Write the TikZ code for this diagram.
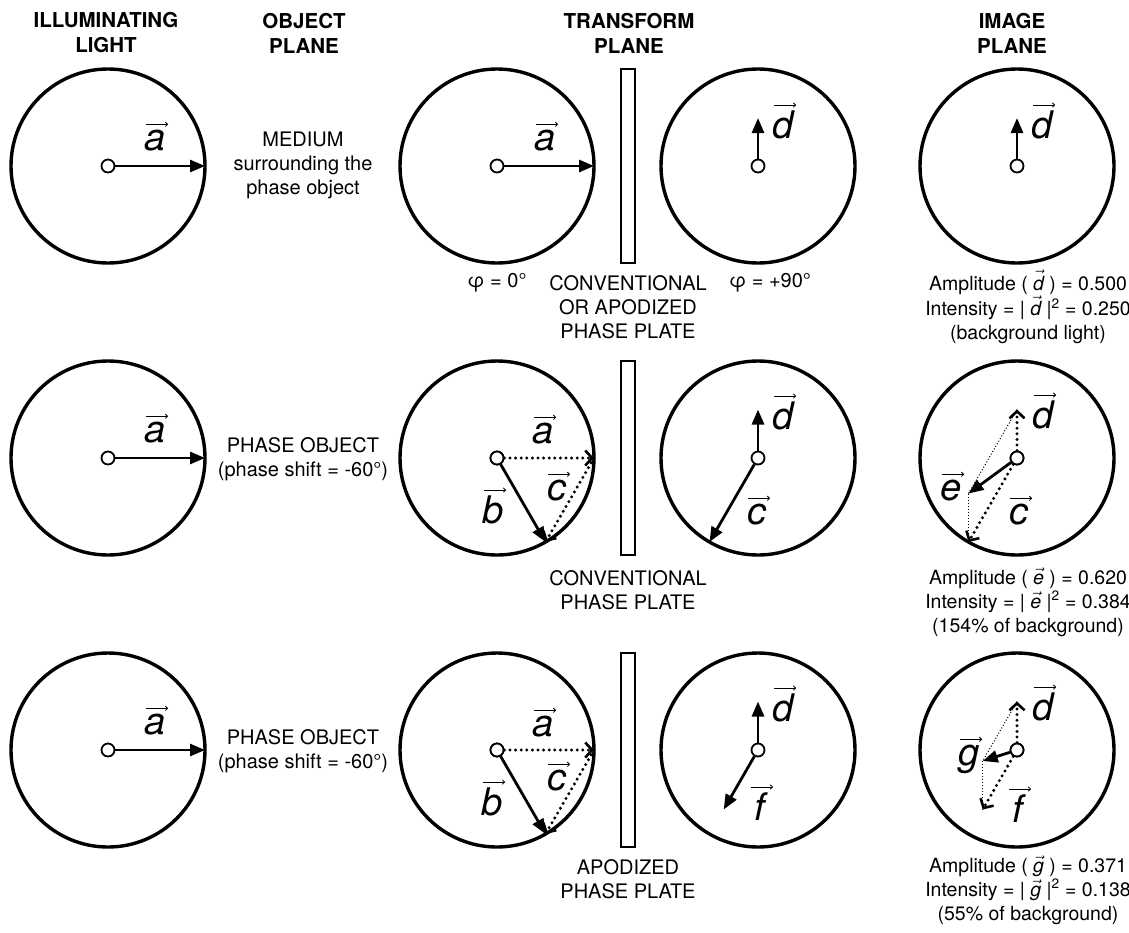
\documentclass[tikz,border=0pt]{standalone}
\usepackage{fontspec}
\setmainfont{TeX Gyre Heros}
\usetikzlibrary{arrows.meta}

\tikzset{
  ring/.style={circle, draw, line width=3.4pt, minimum size=194pt, inner sep=0pt},
  orig/.style={circle, draw, line width=1.8pt, fill=white, minimum size=13pt, inner sep=0pt},
  plate/.style={rectangle, draw, line width=1.6pt, minimum width=14pt, minimum height=194pt, inner sep=0pt},
  vecline/.style={line width=2.8pt, -{Triangle[length=15pt,width=12pt]}},
  dotvec/.style={line width=3.3pt, line cap=round, dash pattern=on 0pt off 5.6pt,
                 -{Straight Barb[length=7pt,width=15pt,line width=2.6pt]}},
  guide/.style={line width=1pt, dash pattern=on 1pt off 2pt},
  vlab/.style={font=\fontsize{38}{38}\selectfont\itshape, inner sep=0pt, anchor=base},
  overarrow/.style={line width=0.8pt, -{To[length=3pt,width=5pt]}},
  hdr/.style={font=\fontsize{20.5}{25}\selectfont\bfseries, align=center},
  txt/.style={font=\fontsize{20}{24}\selectfont, align=center},
  restxt/.style={font=\fontsize{19.5}{24}\selectfont, align=center},
}

% vector label: node name, base point, letter
\newcommand\vlabel[3]{%
  \node[vlab] (#1) at (#2) {#3};
  \draw[overarrow] ([xshift=-9pt,yshift=5pt]#1.north) -- ([xshift=13pt,yshift=5pt]#1.north);
}
\newcommand\vsym[1]{$\vec{\mbox{\itshape #1}}$}

\begin{document}
\begin{tikzpicture}[x=1pt,y=-1pt]
\useasboundingbox (0,0) rectangle (1129,932);

% column headers
\node[hdr] (h1) at (106,33) {ILLUMINATING\\LIGHT};
\node[hdr] (h2) at (304,33) {OBJECT\\PLANE};
\node[hdr] (h3) at (629,33) {TRANSFORM\\PLANE};
\node[hdr] (h4) at (1012,33) {IMAGE\\PLANE};

% ---------------- row 1: background medium ----------------
\node[ring] (r11) at (108,166) {};
\node[ring] (r12) at (497,166) {};
\node[plate] (p1) at (628,166) {};
\node[ring] (r13) at (758,166) {};
\node[ring] (r14) at (1017,166) {};

\node[orig] (o11) at (108,166) {};
\node[orig] (o12) at (497,166) {};
\node[orig] (o13) at (758,166) {};
\node[orig] (o14) at (1017,166) {};

\coordinate (a11) at (205,166);
\coordinate (a12) at (594,166);
\coordinate (d13) at (758,118);
\coordinate (d14) at (1017,118);

\draw[vecline] (o11) -- (a11);
\draw[vecline] (o12) -- (a12);
\draw[vecline] (o13) -- (d13);
\draw[vecline] (o14) -- (d14);

\vlabel{la11}{155,150}{a}
\vlabel{la12}{545,150}{a}
\vlabel{ld13}{783,138}{d}
\vlabel{ld14}{1042,138}{d}

\node[txt] (t1) at (303,165) {MEDIUM\\surrounding the\\phase object};
\node[txt] (phi0) at (497,283) {φ = 0°};
\node[txt] (phi90) at (770,283) {φ = +90°};
\node[txt] (pp1) at (628,307) {CONVENTIONAL\\OR APODIZED\\PHASE PLATE};
\node[restxt] (res1) at (1028,307) {Amplitude ( \vsym{d} ) = 0.500\\
  Intensity = | \vsym{d} |\textsuperscript{2} = 0.250\\(background light)};

% ---------------- row 2: phase object, conventional plate ----------------
\node[ring] (r21) at (108,458) {};
\node[ring] (r22) at (497,458) {};
\node[plate] (p2) at (628,458) {};
\node[ring] (r23) at (758,458) {};
\node[ring] (r24) at (1017,458) {};

\coordinate (a21) at (205,458);
\coordinate (a22) at (594,458);
\coordinate (b22) at (545.5,542);
\coordinate (d23) at (758,409.5);
\coordinate (c23) at (709.5,542);
\coordinate (d24) at (1017,409.5);
\coordinate (c24) at (968.5,542);
\coordinate (e24) at (968.5,493.5);

\node[orig] (o21) at (108,458) {};
\node[orig] (o22) at (497,458) {};
\node[orig] (o23) at (758,458) {};
\node[orig] (o24) at (1017,458) {};

\draw[vecline] (o21) -- (a21);
\draw[dotvec] (o22) -- (a22);
\draw[vecline] (o22) -- (b22);
\draw[dotvec] (a22) -- (b22);
\draw[vecline] (o23) -- (d23);
\draw[vecline] (o23) -- (c23);
\draw[guide] (d24) -- (e24);
\draw[guide] (e24) -- (c24);
\draw[dotvec] (o24) -- (d24);
\draw[dotvec] (o24) -- (c24);
\draw[vecline] (o24) -- (e24);
\node[orig] at (o22) {};
\node[orig] at (o24) {};

\vlabel{la21}{155,442}{a}
\vlabel{la22}{543,443}{a}
\vlabel{lc22}{557,500}{c}
\vlabel{lb22}{493,523}{b}
\vlabel{ld23}{783,429}{d}
\vlabel{lc23}{757,524}{c}
\vlabel{ld24}{1043,428}{d}
\vlabel{lc24}{1019,524}{c}
\vlabel{le24}{951,500}{e}

\node[txt] (t2) at (303,459) {PHASE OBJECT\\(phase shift = -60°)};
\node[txt] (pp2) at (628,590) {CONVENTIONAL\\PHASE PLATE};
\node[restxt] (res2) at (1028,602) {Amplitude ( \vsym{e} ) = 0.620\\
  Intensity = | \vsym{e} |\textsuperscript{2} = 0.384\\(154\% of background)};

% ---------------- row 3: phase object, apodized plate ----------------
\node[ring] (r31) at (108,750) {};
\node[ring] (r32) at (497,750) {};
\node[plate] (p3) at (628,750) {};
\node[ring] (r33) at (758,750) {};
\node[ring] (r34) at (1017,750) {};

\coordinate (a31) at (205,750);
\coordinate (a32) at (594,750);
\coordinate (b32) at (545.5,834);
\coordinate (d33) at (758,701.5);
\coordinate (f33) at (723.7,809.5);
\coordinate (d34) at (1017,701.5);
\coordinate (f34) at (982.7,809.5);
\coordinate (g34) at (982.7,761);

\node[orig] (o31) at (108,750) {};
\node[orig] (o32) at (497,750) {};
\node[orig] (o33) at (758,750) {};
\node[orig] (o34) at (1017,750) {};

\draw[vecline] (o31) -- (a31);
\draw[dotvec] (o32) -- (a32);
\draw[vecline] (o32) -- (b32);
\draw[dotvec] (a32) -- (b32);
\draw[vecline] (o33) -- (d33);
\draw[vecline] (o33) -- (f33);
\draw[guide] (d34) -- (g34);
\draw[guide] (g34) -- (f34);
\draw[dotvec] (o34) -- (d34);
\draw[dotvec] (o34) -- (f34);
\draw[vecline] (o34) -- (g34);
\node[orig] at (o32) {};
\node[orig] at (o34) {};

\vlabel{la31}{155,734}{a}
\vlabel{la32}{543,736}{a}
\vlabel{lc32}{557,790}{c}
\vlabel{lb32}{492,815}{b}
\vlabel{ld33}{783,721}{d}
\vlabel{lf33}{760,820}{f}
\vlabel{ld34}{1043,720}{d}
\vlabel{lg34}{969,765}{g}
\vlabel{lf34}{1018,822}{f}

\node[txt] (t3) at (303,751) {PHASE OBJECT\\(phase shift = -60°)};
\node[txt] (pp3) at (628,879) {APODIZED\\PHASE PLATE};
\node[restxt] (res3) at (1028,890) {Amplitude ( \vsym{g} ) = 0.371\\
  Intensity = | \vsym{g} |\textsuperscript{2} = 0.138\\(55\% of background)};
\end{tikzpicture}
\end{document}
